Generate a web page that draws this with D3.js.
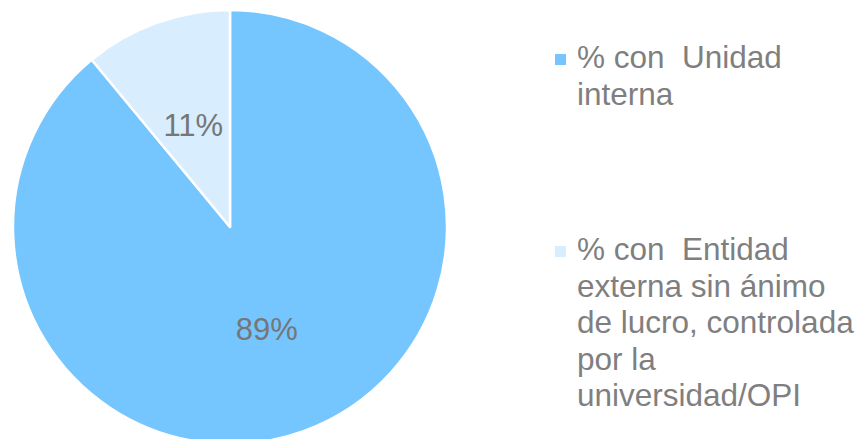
<!DOCTYPE html>
<html>
<head>
<meta charset="utf-8">
<script src="https://cdn.jsdelivr.net/npm/d3@7"></script>
<style>
  html, body { margin: 0; padding: 0; background: #ffffff; }
  svg { display: block; }
</style>
</head>
<body>
<svg id="chart" width="858" height="439"></svg>
<script>
const categories = ["% con  Unidad interna", "% con  Entidad externa sin ánimo de lucro, controlada por la universidad/OPI"];
const values = [89, 11];
const labels = ["89%", "11%"];
const colors = ["#75C5FE", "#D8EDFD"];
const legendLines = [
  ["% con  Unidad", "interna"],
  ["% con  Entidad", "externa sin ánimo", "de lucro, controlada", "por la", "universidad/OPI"]
];

const svg = d3.select("#chart");
const font = "'Liberation Sans', Arial, sans-serif";
const cx = 230, cy = 227, R = 217;

const pie = d3.pie().sort(null).value(d => d.v)
  .startAngle(0).endAngle(2 * Math.PI);
const data = values.map((v, i) => ({ v, i }));
const arcs = pie(data);
const arc = d3.arc().innerRadius(0).outerRadius(R);

const g = svg.append("g").attr("transform", `translate(${cx},${cy})`);
g.selectAll("path").data(arcs).join("path")
  .attr("d", arc)
  .attr("fill", d => colors[d.data.i])
  .attr("stroke", "#ffffff")
  .attr("stroke-width", 2.5)
  .attr("stroke-linejoin", "round");

g.selectAll("text").data(arcs).join("text")
  .attr("x", d => arc.centroid(d)[0])
  .attr("y", d => arc.centroid(d)[1] + 11)
  .attr("text-anchor", "middle")
  .attr("font-family", font)
  .attr("font-size", 31)
  .attr("fill", "#767676")
  .text(d => labels[d.data.i]);

const legendTop = [68, 260];
const lineH = 36.6;
const lg = svg.append("g");
legendLines.forEach((lines, i) => {
  lg.append("rect")
    .attr("x", 555).attr("y", legendTop[i] - 14)
    .attr("width", 11).attr("height", 11)
    .attr("fill", colors[i]);
  const t = lg.append("text")
    .attr("font-family", font)
    .attr("font-size", 31.5)
    .attr("fill", "#7F7F7F")
    .attr("xml:space", "preserve")
    .style("white-space", "pre");
  lines.forEach((ln, j) => {
    t.append("tspan").attr("x", 577).attr("y", legendTop[i] + j * lineH).text(ln);
  });
});
</script>
</body>
</html>
